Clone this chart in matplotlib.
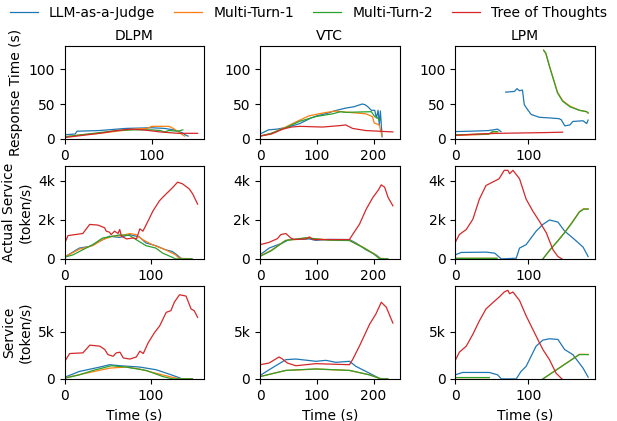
import numpy as np
import matplotlib
matplotlib.use("Agg")
import matplotlib.pyplot as plt
from matplotlib.ticker import FuncFormatter

nan = np.nan
series_names = ["LLM-as-a-Judge", "Multi-Turn-1", "Multi-Turn-2", "Tree of Thoughts"]
datasets = ["DLPM", "VTC", "LPM"]
row_labels = ["Response Time (s)", "Actual Service\n(token/s)", "Service\n(token/s)"]
colors = ["#1f77b4", "#ff7f0e", "#2ca02c", "#d62728"]

# ---------------- Row 1: Response time (s) ----------------
# DLPM
rt_dlpm_judge_t = [0, 12, 14, 40, 70, 100, 115, 125, 135, 140, 142]
rt_dlpm_judge_v = [6, 7, 11, 12, 15, 16, 15, 13, 9, 5, 4]
rt_dlpm_mt1_t = [0, 20, 40, 60, 80, 95, 100, 120, 125, 132, 138]
rt_dlpm_mt1_v = [3, 6, 8, 11, 14, 15, 18, 18, 15, 9, 4]
rt_dlpm_mt2_t = [0, 20, 40, 60, 80, 100, 110, 115, 120, 130, 136]
rt_dlpm_mt2_v = [3, 6, 9, 12, 13, 13, 12, 10, 12, 11, 13]
rt_dlpm_tot_t = [0, 20, 40, 60, 75, 90, 110, 130, 153]
rt_dlpm_tot_v = [2, 5, 8, 12, 14, 13, 10, 8, 8]
# VTC
rt_vtc_judge_t = [0, 15, 30, 50, 70, 90, 100, 120, 130, 150, 165, 180, 185, 190, 196, 202, 205, 208, 210, 212, 215]
rt_vtc_judge_v = [7, 13, 14, 17, 22, 30, 33, 37, 40, 44, 46, 50, 49, 46, 41, 41, 30, 41, 20, 40, 3]
rt_vtc_mt1_t = [0, 20, 45, 65, 86, 110, 133, 142, 157, 186, 198, 201, 210, 215]
rt_vtc_mt1_v = [4, 8, 17, 25, 33, 37, 40, 39, 38, 36, 32, 23, 20, 4]
rt_vtc_mt2_t = [0, 20, 45, 69, 98, 128, 142, 151, 196, 202, 207, 211]
rt_vtc_mt2_v = [4, 8, 16, 25, 32, 36, 39, 38, 39, 32, 30, 26]
rt_vtc_tot_t = [0, 20, 40, 55, 70, 110, 140, 151, 163, 186, 210, 234]
rt_vtc_tot_v = [4, 7, 14, 17, 18, 17, 19, 20, 15, 12, 11, 10]
# LPM
rt_lpm_judge_t = [0, 20, 46, 58, 62.5, nan, 69, 81, 84.5, 88, 92, 94.5, 99, 104, 115, 130, 142, 145, 150, 157, 161, 175, 180, 182]
rt_lpm_judge_v = [10.5, 11, 12, 14, 10.5, nan, 67, 68, 72, 69, 70, 49, 42, 35, 31, 30, 29, 27.6, 18.7, 20, 25, 26, 22, 27]
rt_lpm_mt1_t = [0, 30, 46, 52, 58, nan, 121, 124, 129, 133, 140, 147, 157, 170, 180, 182]
rt_lpm_mt1_v = [5, 6, 7, 10, 10, nan, 127, 122, 104, 91, 67, 55, 47, 41, 39, 37]
rt_lpm_mt2_t = [0, 30, 46, 51, 58, nan, 121, 124, 129, 133, 140, 147, 157, 170, 180, 182]
rt_lpm_mt2_v = [6, 6.5, 7, 10.5, 10.5, nan, 127, 123, 104, 90, 66, 54, 46, 41, 39, 37]
rt_lpm_tot_t = [0, 30, 60, 90, 120, 147]
rt_lpm_tot_v = [5, 7, 8, 8.5, 9, 9.6]

# ---------------- Row 2: Actual service (token/s) ----------------
as_dlpm_judge_t = [0, 17, 29, 40.6, 52, 64, 75.5, 87, 94.6, 106, 117.4, 125, 130.6, 136, 148]
as_dlpm_judge_v = [100, 555, 640, 900, 1160, 1100, 1246, 1120, 815, 677, 468, 382, 208, 0, 0]
as_dlpm_mt1_t = [0, 17, 32.6, 44, 55.6, 67, 75.5, 83, 90.6, 102, 117, 129, 133, 148]
as_dlpm_mt1_v = [100, 500, 680, 990, 1160, 1200, 1300, 1246, 990, 730, 470, 208, 35, 0]
as_dlpm_mt2_t = [0, 9.6, 21, 32.6, 44, 55.6, 64, 75.5, 83, 94.6, 106, 114, 125, 129, 148]
as_dlpm_mt2_v = [90, 208, 470, 730, 1070, 1160, 1230, 1200, 990, 677, 555, 295, 87, 0, 0]
as_dlpm_tot_t = [0, 3.8, 21, 29, 38.7, 46.4, 48.3, 52, 54, 58, 62, 64, 66, 72, 79.7, 83.5, 87.4, 91, 97, 102.7, 110.3, 114, 120, 126, 131.4, 137, 145, 149, 154.7]
as_dlpm_tot_v = [815, 1195, 1300, 1766, 1731, 1593, 1420, 1368, 1246, 1420, 1300, 1506, 1160, 1022, 1073, 1022, 1541, 1420, 1939, 2459, 2978, 3151, 3411, 3671, 3931, 3845, 3584, 3325, 2805]

as_vtc_judge_t = [0, 16, 39.5, 51, 87, 98.5, 120, 157.5, 169, 186.6, 204.3, 213, 225]
as_vtc_judge_v = [208, 555, 815, 990, 1022, 950, 1000, 990, 815, 470, 208, 0, 0]
as_vtc_mt1_t = [0, 20, 45, 81, 120, 157.5, 181, 200, 210, 225]
as_vtc_mt1_v = [150, 450, 950, 1073, 980, 950, 607, 280, 35, 0]
as_vtc_mt2_t = [0, 20, 45, 81, 120, 157.5, 181, 200, 210, 225]
as_vtc_mt2_v = [130, 420, 940, 1080, 960, 940, 590, 260, 20, 0]
as_vtc_tot_t = [0, 16, 30.7, 36.6, 45.4, 54, 60, 81, 87, 93, 128, 157.5, 163, 175, 187, 198.8, 207.7, 213.6, 219.5, 225.5, 234]
as_vtc_tot_v = [727, 848, 1039, 1246, 1300, 1073, 990, 1022, 1125, 990, 990, 990, 1246, 1766, 2545, 3151, 3498, 3793, 3671, 3151, 2718]

as_lpm_judge_t = [0, 8, 42.5, 54, 63, 83.5, 88, 97, 110.7, 120, 129, 140.6, 149.8, 161, 175, 182]
as_lpm_judge_v = [208, 330, 347, 295, 0, 35, 555, 730, 1420, 1766, 1992, 1888, 1420, 1073, 607, 121]
as_lpm_mt1_t = [0, 57, nan, 120, 130, 140, 150, 160, 170, 176, 182]
as_lpm_mt1_v = [30, 30, nan, 0, 470, 910, 1370, 1880, 2420, 2570, 2560]
as_lpm_mt2_t = [0, 57, nan, 120, 130, 140, 150, 160, 170, 176, 182]
as_lpm_mt2_v = [30, 30, nan, 0, 480, 900, 1350, 1850, 2400, 2550, 2550]
as_lpm_tot_t = [0, 5.5, 15, 24, 33, 42, 51, 60, 67, 72, 74.4, 79, 88, 97, 106, 115, 124.7, 133.8, 140.6, 146]
as_lpm_tot_v = [848, 1246, 1506, 2026, 3064, 3758, 3931, 4104, 4537, 4537, 4364, 4537, 4104, 3064, 2459, 1939, 1333, 468, 121, 0]

# ---------------- Row 3: Service (token/s) ----------------
sv_dlpm_judge_t = [0, 17, 40.6, 52, 64, 87, 106, 117.6, 129, 136, 148]
sv_dlpm_judge_v = [180, 790, 1250, 1500, 1390, 1250, 965, 610, 250, 0, 0]
sv_dlpm_mt1_t = [0, 25, 52, 71, 87, 102, 121, 133, 148]
sv_dlpm_mt1_v = [110, 610, 1140, 1250, 1040, 680, 250, 0, 0]
sv_dlpm_mt2_t = [0, 17, 32.6, 54, 71, 94.6, 113.6, 125, 148]
sv_dlpm_mt2_v = [70, 430, 890, 1390, 1250, 890, 250, 0, 0]
sv_dlpm_tot_t = [0, 5.7, 21, 29, 40.6, 46.4, 50, 56, 59.7, 64, 67.8, 75.5, 83, 87, 91, 96.7, 104, 110, 117.6, 123, 127, 133, 140.6, 146.4, 150, 154]
sv_dlpm_tot_v = [1854, 2680, 2750, 3565, 3460, 3100, 2570, 2390, 2750, 2820, 2215, 2100, 2320, 2930, 2680, 3820, 4890, 5600, 7030, 7210, 8100, 8890, 8750, 7390, 7210, 6500]

sv_vtc_judge_t = [0, 16, 45.4, 63, 98.5, 116, 133.6, 157.5, 169, 186.6, 204, 213, 225]
sv_vtc_judge_v = [360, 965, 2035, 2100, 1860, 1960, 1750, 1860, 1320, 790, 250, 0, 0]
sv_vtc_mt1_t = [0, 45.4, 98.5, 157.5, 193, 213, 225]
sv_vtc_mt1_v = [250, 890, 1040, 890, 430, 0, 0]
sv_vtc_mt2_t = [0, 45.4, 98.5, 157.5, 193, 213, 225]
sv_vtc_mt2_v = [240, 900, 1050, 900, 420, 0, 0]
sv_vtc_tot_t = [0, 16, 33.6, 39.5, 48, 63, 98.5, 157.5, 163, 175, 193, 204, 213.6, 222.4, 234]
sv_vtc_tot_v = [1500, 1680, 2320, 2100, 1680, 1390, 1610, 1500, 2035, 3460, 5780, 6850, 8100, 7570, 5900]

sv_lpm_judge_t = [0, 10, 46.6, 58, 63, 83.5, 90, 97, 110.7, 120, 129, 140.6, 149.8, 161, 175, 182]
sv_lpm_judge_v = [430, 680, 680, 430, 0, 0, 790, 1320, 3460, 4100, 4240, 4170, 3100, 2570, 1140, 180]
sv_lpm_mt1_t = [0, 46.6, nan, 120, 170, 182]
sv_lpm_mt1_v = [140, 140, nan, 0, 2600, 2580]
sv_lpm_mt2_t = [0, 46.6, nan, 120, 170, 182]
sv_lpm_mt2_v = [140, 140, nan, 0, 2570, 2570]
sv_lpm_tot_t = [0, 5.5, 15, 24, 33, 42, 51, 60, 67, 72, 74.4, 79, 88, 97, 110.7, 120, 129, 138, 146]
sv_lpm_tot_v = [1960, 2820, 3460, 4710, 6140, 7390, 8030, 8640, 9180, 9360, 9000, 9180, 8280, 6670, 4530, 3100, 2035, 610, 0]

panels = [
    [  # response time
        [(rt_dlpm_judge_t, rt_dlpm_judge_v), (rt_dlpm_mt1_t, rt_dlpm_mt1_v), (rt_dlpm_mt2_t, rt_dlpm_mt2_v), (rt_dlpm_tot_t, rt_dlpm_tot_v)],
        [(rt_vtc_judge_t, rt_vtc_judge_v), (rt_vtc_mt1_t, rt_vtc_mt1_v), (rt_vtc_mt2_t, rt_vtc_mt2_v), (rt_vtc_tot_t, rt_vtc_tot_v)],
        [(rt_lpm_judge_t, rt_lpm_judge_v), (rt_lpm_mt1_t, rt_lpm_mt1_v), (rt_lpm_mt2_t, rt_lpm_mt2_v), (rt_lpm_tot_t, rt_lpm_tot_v)],
    ],
    [  # actual service
        [(as_dlpm_judge_t, as_dlpm_judge_v), (as_dlpm_mt1_t, as_dlpm_mt1_v), (as_dlpm_mt2_t, as_dlpm_mt2_v), (as_dlpm_tot_t, as_dlpm_tot_v)],
        [(as_vtc_judge_t, as_vtc_judge_v), (as_vtc_mt1_t, as_vtc_mt1_v), (as_vtc_mt2_t, as_vtc_mt2_v), (as_vtc_tot_t, as_vtc_tot_v)],
        [(as_lpm_judge_t, as_lpm_judge_v), (as_lpm_mt1_t, as_lpm_mt1_v), (as_lpm_mt2_t, as_lpm_mt2_v), (as_lpm_tot_t, as_lpm_tot_v)],
    ],
    [  # service
        [(sv_dlpm_judge_t, sv_dlpm_judge_v), (sv_dlpm_mt1_t, sv_dlpm_mt1_v), (sv_dlpm_mt2_t, sv_dlpm_mt2_v), (sv_dlpm_tot_t, sv_dlpm_tot_v)],
        [(sv_vtc_judge_t, sv_vtc_judge_v), (sv_vtc_mt1_t, sv_vtc_mt1_v), (sv_vtc_mt2_t, sv_vtc_mt2_v), (sv_vtc_tot_t, sv_vtc_tot_v)],
        [(sv_lpm_judge_t, sv_lpm_judge_v), (sv_lpm_mt1_t, sv_lpm_mt1_v), (sv_lpm_mt2_t, sv_lpm_mt2_v), (sv_lpm_tot_t, sv_lpm_tot_v)],
    ],
]

yticks_rows = [[0, 50, 100], [0, 2000, 4000], [0, 5000]]


def kfmt(v, pos):
    return "0" if v == 0 else f"{int(round(v / 1000))}k"


fig, axes = plt.subplots(3, 3, figsize=(6.17, 4.21), dpi=100, sharey="row")
fig.subplots_adjust(left=0.105, right=0.964, top=0.891, bottom=0.100, wspace=0.40, hspace=0.29)

handles = []
for r in range(3):
    for c in range(3):
        ax = axes[r, c]
        for s, (t, v) in enumerate(panels[r][c]):
            ln, = ax.plot(t, v, color=colors[s], lw=0.9, label=series_names[s])
            if r == 0 and c == 0:
                handles.append(ln)
        ax.set_xlim(left=0)
        ax.tick_params(labelsize=10, labelleft=True)
        if r == 0:
            ax.set_title(datasets[c], fontsize=10, pad=4)
        if r == 2:
            ax.set_xlabel("Time (s)", fontsize=10)
        if c == 0:
            ax.set_ylabel(row_labels[r], fontsize=10)
    axes[r, 0].set_ylim(bottom=0)
    axes[r, 0].set_yticks(yticks_rows[r])
    if r > 0:
        axes[r, 0].yaxis.set_major_formatter(FuncFormatter(kfmt))

fig.legend(handles, series_names, loc="upper center", ncol=4, frameon=False,
           fontsize=10, bbox_to_anchor=(0.5, 1.015), columnspacing=1.4, handlelength=2.0)

fig.savefig("out.png", dpi=100)
